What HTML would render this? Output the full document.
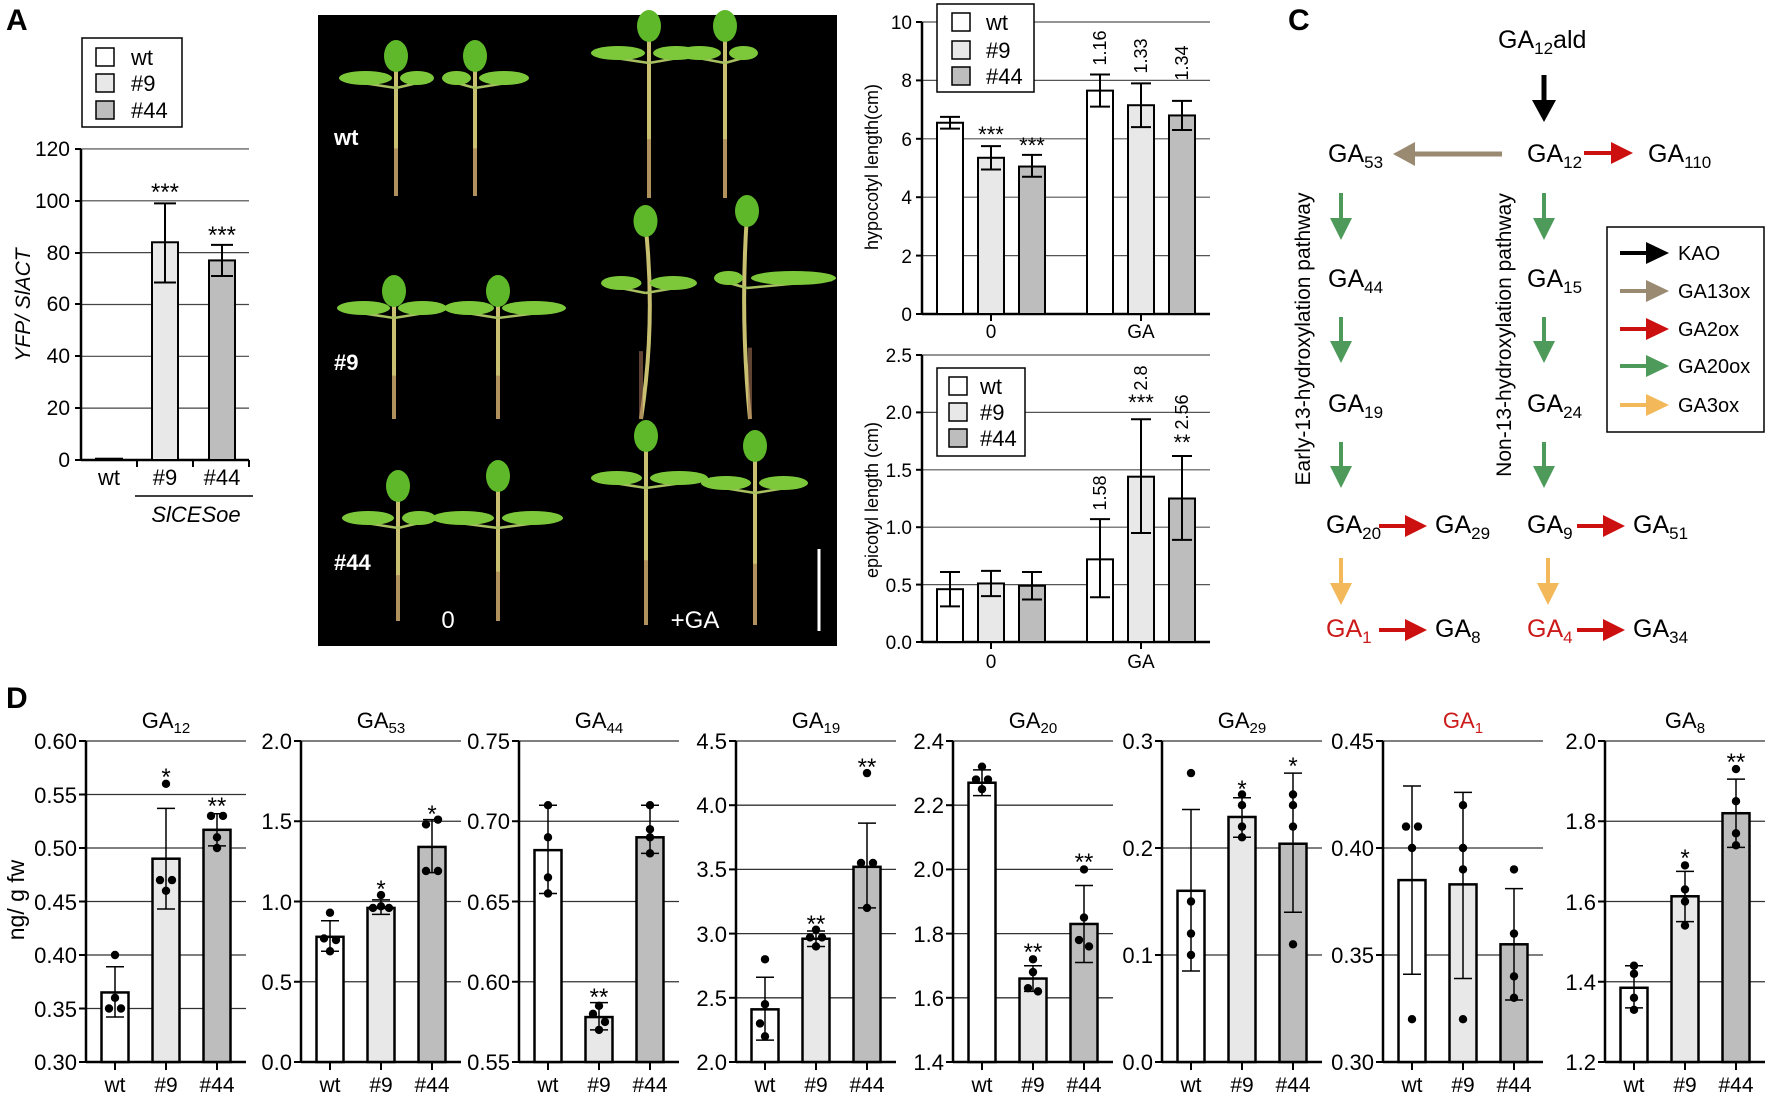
<!DOCTYPE html>
<html><head><meta charset="utf-8"><style>
html,body{margin:0;padding:0;background:#fff;}
svg{display:block;font-family:"Liberation Sans",Arial,sans-serif;}
</style></head><body>
<svg id="s" width="1772" height="1099" viewBox="0 0 1772 1099" xmlns="http://www.w3.org/2000/svg">
<rect width="1772" height="1099" fill="#fff"/>
<g id="shapes"></g>

<!-- Panel A text -->
<text x="6" y="30" font-size="30" font-weight="bold">A</text>
<g font-size="21" text-anchor="end">
<text x="70" y="156">120</text><text x="70" y="208">100</text><text x="70" y="260">80</text><text x="70" y="311">60</text><text x="70" y="363">40</text><text x="70" y="415">20</text><text x="70" y="467">0</text>
</g>
<text transform="translate(30,305) rotate(-90)" text-anchor="middle" font-size="21" font-style="italic">YFP/ SlACT</text>
<g font-size="22" text-anchor="middle">
<text x="109" y="485">wt</text><text x="165" y="485">#9</text><text x="222" y="485">#44</text>
<text x="196" y="522" font-style="italic">SlCESoe</text>
<text x="165" y="200" font-size="24">***</text><text x="222" y="243" font-size="24">***</text>
</g>
<g font-size="22">
<text x="131" y="65">wt</text><text x="131" y="91">#9</text><text x="131" y="118">#44</text>
</g>

<!-- Panel B photo labels -->
<g fill="#fff" font-size="22" font-weight="bold">
<text x="334" y="145">wt</text><text x="334" y="370">#9</text><text x="334" y="570">#44</text>
</g>
<g fill="#fff" font-size="24" text-anchor="middle">
<text x="448" y="628">0</text><text x="695" y="628">+GA</text>
</g>

<!-- B charts text -->
<g font-size="19" text-anchor="end">
<text x="912" y="29">10</text><text x="912" y="87">8</text><text x="912" y="146">6</text><text x="912" y="204">4</text><text x="912" y="263">2</text><text x="912" y="321">0</text>
<text x="912" y="362">2.5</text><text x="912" y="419">2.0</text><text x="912" y="477">1.5</text><text x="912" y="534">1.0</text><text x="912" y="592">0.5</text><text x="912" y="649">0.0</text>
</g>
<g font-size="19" text-anchor="middle">
<text x="991" y="338">0</text><text x="1141" y="338">GA</text>
<text x="991" y="668">0</text><text x="1141" y="668">GA</text>
<text transform="translate(878,167) rotate(-90)" font-size="18">hypocotyl length(cm)</text>
<text transform="translate(878,500) rotate(-90)" font-size="18">epicotyl length (cm)</text>
<text x="991" y="142" font-size="22">***</text><text x="1032" y="153" font-size="22">***</text>
<text x="1141" y="410" font-size="22">***</text><text x="1182" y="450" font-size="22">**</text>
<text transform="translate(1106,48) rotate(-90)" font-size="18">1.16</text>
<text transform="translate(1147,56) rotate(-90)" font-size="18">1.33</text>
<text transform="translate(1188,63) rotate(-90)" font-size="18">1.34</text>
<text transform="translate(1106,493) rotate(-90)" font-size="18">1.58</text>
<text transform="translate(1147,378) rotate(-90)" font-size="18">2.8</text>
<text transform="translate(1188,412) rotate(-90)" font-size="18">2.56</text>
</g>
<g font-size="22">
<text x="986" y="30">wt</text><text x="986" y="58">#9</text><text x="986" y="84">#44</text>
<text x="980" y="394">wt</text><text x="980" y="420">#9</text><text x="980" y="446">#44</text>
</g>

<!-- Panel C text -->
<text x="1288" y="30" font-size="30" font-weight="bold">C</text>
<g font-size="25">
<text x="1498" y="48">GA<tspan font-size="17" dy="6">12</tspan><tspan dy="-6">ald</tspan></text>
<text x="1328" y="162">GA<tspan font-size="17" dy="6">53</tspan></text>
<text x="1527" y="162">GA<tspan font-size="17" dy="6">12</tspan></text>
<text x="1648" y="162">GA<tspan font-size="17" dy="6">110</tspan></text>
<text x="1328" y="287">GA<tspan font-size="17" dy="6">44</tspan></text>
<text x="1527" y="287">GA<tspan font-size="17" dy="6">15</tspan></text>
<text x="1328" y="412">GA<tspan font-size="17" dy="6">19</tspan></text>
<text x="1527" y="412">GA<tspan font-size="17" dy="6">24</tspan></text>
<text x="1326" y="533">GA<tspan font-size="17" dy="6">20</tspan></text>
<text x="1435" y="533">GA<tspan font-size="17" dy="6">29</tspan></text>
<text x="1527" y="533">GA<tspan font-size="17" dy="6">9</tspan></text>
<text x="1633" y="533">GA<tspan font-size="17" dy="6">51</tspan></text>
<text x="1326" y="637" fill="#cc1b1b">GA<tspan font-size="17" dy="6">1</tspan></text>
<text x="1435" y="637">GA<tspan font-size="17" dy="6">8</tspan></text>
<text x="1527" y="637" fill="#cc1b1b">GA<tspan font-size="17" dy="6">4</tspan></text>
<text x="1633" y="637">GA<tspan font-size="17" dy="6">34</tspan></text>
</g>
<g font-size="21">
<text transform="translate(1310,339) rotate(-90)" text-anchor="middle">Early-13-hydroxylation pathway</text>
<text transform="translate(1511,335) rotate(-90)" text-anchor="middle">Non-13-hydroxylation pathway</text>
</g>
<g font-size="20">
<text x="1678" y="260">KAO</text><text x="1678" y="298">GA13ox</text><text x="1678" y="336">GA2ox</text><text x="1678" y="373">GA20ox</text><text x="1678" y="412">GA3ox</text>
</g>

<!-- Panel D text -->
<text x="6" y="708" font-size="30" font-weight="bold">D</text>
<text transform="translate(24,900) rotate(-90)" text-anchor="middle" font-size="23">ng/ g fw</text>
<g font-size="22" text-anchor="middle">
<text x="166" y="728">GA<tspan font-size="15" dy="5">12</tspan></text>
<text x="381" y="728">GA<tspan font-size="15" dy="5">53</tspan></text>
<text x="599" y="728">GA<tspan font-size="15" dy="5">44</tspan></text>
<text x="816" y="728">GA<tspan font-size="15" dy="5">19</tspan></text>
<text x="1033" y="728">GA<tspan font-size="15" dy="5">20</tspan></text>
<text x="1242" y="728">GA<tspan font-size="15" dy="5">29</tspan></text>
<text x="1463" y="728" fill="#cc1b1b">GA<tspan font-size="15" dy="5">1</tspan></text>
<text x="1685" y="728">GA<tspan font-size="15" dy="5">8</tspan></text>
</g>
<g font-size="22" text-anchor="end">
<text x="77" y="749">0.60</text><text x="77" y="803">0.55</text><text x="77" y="856">0.50</text><text x="77" y="910">0.45</text><text x="77" y="963">0.40</text><text x="77" y="1017">0.35</text><text x="77" y="1070">0.30</text>
<text x="292" y="749">2.0</text><text x="292" y="829">1.5</text><text x="292" y="910">1.0</text><text x="292" y="990">0.5</text><text x="292" y="1070">0.0</text>
<text x="510" y="749">0.75</text><text x="510" y="829">0.70</text><text x="510" y="910">0.65</text><text x="510" y="990">0.60</text><text x="510" y="1070">0.55</text>
<text x="727" y="749">4.5</text><text x="727" y="813">4.0</text><text x="727" y="877">3.5</text><text x="727" y="942">3.0</text><text x="727" y="1006">2.5</text><text x="727" y="1070">2.0</text>
<text x="944" y="749">2.4</text><text x="944" y="813">2.2</text><text x="944" y="877">2.0</text><text x="944" y="942">1.8</text><text x="944" y="1006">1.6</text><text x="944" y="1070">1.4</text>
<text x="1153" y="749">0.3</text><text x="1153" y="856">0.2</text><text x="1153" y="963">0.1</text><text x="1153" y="1070">0.0</text>
<text x="1374" y="749">0.45</text><text x="1374" y="856">0.40</text><text x="1374" y="963">0.35</text><text x="1374" y="1070">0.30</text>
<text x="1596" y="749">2.0</text><text x="1596" y="829">1.8</text><text x="1596" y="910">1.6</text><text x="1596" y="990">1.4</text><text x="1596" y="1070">1.2</text>
</g>
<g font-size="21" text-anchor="middle">
<text x="115" y="1092">wt</text><text x="166" y="1092">#9</text><text x="217" y="1092">#44</text>
<text x="330" y="1092">wt</text><text x="381" y="1092">#9</text><text x="432" y="1092">#44</text>
<text x="548" y="1092">wt</text><text x="599" y="1092">#9</text><text x="650" y="1092">#44</text>
<text x="765" y="1092">wt</text><text x="816" y="1092">#9</text><text x="867" y="1092">#44</text>
<text x="982" y="1092">wt</text><text x="1033" y="1092">#9</text><text x="1084" y="1092">#44</text>
<text x="1191" y="1092">wt</text><text x="1242" y="1092">#9</text><text x="1293" y="1092">#44</text>
<text x="1412" y="1092">wt</text><text x="1463" y="1092">#9</text><text x="1514" y="1092">#44</text>
<text x="1634" y="1092">wt</text><text x="1685" y="1092">#9</text><text x="1736" y="1092">#44</text>
</g>
<g font-size="24" text-anchor="middle">
<text x="166" y="785">*</text><text x="217" y="814">**</text>
<text x="381" y="897">*</text><text x="432" y="822">*</text>
<text x="599" y="1005">**</text>
<text x="816" y="932">**</text><text x="867" y="775">**</text>
<text x="1033" y="960">**</text><text x="1084" y="870">**</text>
<text x="1242" y="797">*</text><text x="1293" y="774">*</text>
<text x="1685" y="866">*</text><text x="1736" y="770">**</text>
</g>
</svg>
<script>
(function(){
var NS="http://www.w3.org/2000/svg",G=document.getElementById("shapes");
function el(t,a){var e=document.createElementNS(NS,t);for(var k in a)e.setAttribute(k,a[k]);G.appendChild(e);return e;}
function ln(x1,y1,x2,y2,w,c){el("line",{x1:x1,y1:y1,x2:x2,y2:y2,stroke:c||"#000","stroke-width":w||1.5});}
var F=["#ffffff","#e8e8e8","#bdbdbd"];
// ---------- Panel B photo ----------
el("rect",{x:318,y:15,width:519,height:631,fill:"#000"});
ln(819,549,819,631,3,"#fff");
function plant(x0,yb,yt,bend,lx1,lx2,ly){
  var mid=(yb+yt)/2;
  el("path",{d:"M"+x0+","+yb+" Q"+(x0+bend)+","+mid+" "+(x0+bend*0.3)+","+yt,stroke:"#c8c070",fill:"none","stroke-width":4});
  el("path",{d:"M"+x0+","+yb+" L"+x0+","+(yb-(yb-yt)*0.35),stroke:"#a07050",fill:"none","stroke-width":4,opacity:0.6});
  var tx=x0+bend*0.3;
  el("path",{d:"M"+tx+","+(ly+8)+" L"+lx1+","+ly,stroke:"#a8c060","stroke-width":2.5,fill:"none"});
  el("path",{d:"M"+tx+","+(ly+8)+" L"+lx2+","+ly,stroke:"#a8c060","stroke-width":2.5,fill:"none"});
  el("ellipse",{cx:(lx1+tx)/2-4,cy:ly-2,rx:Math.abs(tx-lx1)/2,ry:7,fill:"#7cc83a"});
  el("ellipse",{cx:(lx2+tx)/2+4,cy:ly-2,rx:Math.abs(lx2-tx)/2,ry:7,fill:"#7cc83a"});
  el("ellipse",{cx:tx,cy:yt-4,rx:12,ry:16,fill:"#5eb82a"});
}
plant(396,196,60,0,343,430,80);plant(475,196,60,0,446,525,80);
plant(649,198,30,0,595,695,55);plant(725,198,30,0,682,754,55);
plant(394,419,295,0,341,443,310);plant(498,419,295,0,448,562,310);
plant(641,419,225,15,605,693,285);plant(750,419,215,-10,718,832,280);
plant(398,621,490,0,346,432,520);plant(498,621,480,0,436,559,520);
plant(646,625,440,0,595,704,480);plant(755,625,450,0,705,804,485);
// ---------- Panel A ----------
function yA(v){return 460-v*2.592;}
for(var v=20;v<=120;v+=20)ln(81,yA(v),249,yA(v),1.2,"#444");
ln(81,149,81,460,2.5);ln(81,460,249,460,2.5);
[137,193,249].forEach(function(x){ln(x,460,x,467,2);});
[149,201,253,304,356,408,460].forEach(function(y){ln(75,y,81,y,2);});
[[109,0.5,0.4,0.6],[165,84,68.5,99],[222,77,71,83]].forEach(function(b,i){
 el("rect",{x:b[0]-13,y:yA(b[1]),width:26,height:460-yA(b[1]),fill:F[i],stroke:"#000","stroke-width":2});
 if(i>0){ln(b[0],yA(b[2]),b[0],yA(b[3]),2);ln(b[0]-11,yA(b[2]),b[0]+11,yA(b[2]),2);ln(b[0]-11,yA(b[3]),b[0]+11,yA(b[3]),2);}
});
ln(135,496,253,496,1.5);
el("rect",{x:82,y:38,width:100,height:89,fill:"#fff",stroke:"#000","stroke-width":1.5});
[57,83,110].forEach(function(y,i){el("rect",{x:96,y:y-9,width:18,height:18,fill:F[i],stroke:"#000","stroke-width":1.5});});
// ---------- Panel B charts ----------
function bchart(y0,ppu,top,grid,data){
 function Y(v){return y0-v*ppu;}
 grid.forEach(function(g){ln(922,Y(g),1210,Y(g),1.2,"#555");});
 ln(922,top,922,y0,2.5);ln(922,y0,1210,y0,2.5);
 grid.concat([0]).forEach(function(g){ln(916,Y(g),922,Y(g),2);});
 ln(991,y0,991,y0+7,2);ln(1141,y0,1141,y0+7,2);
 var cx=[950,991,1032,1100,1141,1182];
 data.forEach(function(d,i){var c=cx[i];
  el("rect",{x:c-13,y:Y(d[0]),width:26,height:y0-Y(d[0]),fill:F[i%3],stroke:"#000","stroke-width":2});
  ln(c,Y(d[1]),c,Y(d[2]),2);ln(c-10,Y(d[1]),c+10,Y(d[1]),2);ln(c-10,Y(d[2]),c+10,Y(d[2]),2);});
}
bchart(314,29.2,22,[2,4,6,8,10],[[6.55,6.35,6.75],[5.35,4.95,5.75],[5.05,4.7,5.45],[7.65,7.1,8.2],[7.15,6.4,7.9],[6.8,6.3,7.3]]);
bchart(642,114.8,355,[0.5,1,1.5,2,2.5],[[0.46,0.31,0.61],[0.51,0.40,0.62],[0.49,0.37,0.61],[0.72,0.39,1.07],[1.44,0.95,1.94],[1.25,0.89,1.62]]);
el("rect",{x:937,y:4,width:97,height:88,fill:"#fff",stroke:"#000","stroke-width":1.5});
[22,50,76].forEach(function(y,i){el("rect",{x:952,y:y-9,width:18,height:18,fill:F[i],stroke:"#000","stroke-width":1.5});});
el("rect",{x:937,y:368,width:88,height:88,fill:"#fff",stroke:"#000","stroke-width":1.5});
[386,412,438].forEach(function(y,i){el("rect",{x:949,y:y-9,width:18,height:18,fill:F[i],stroke:"#000","stroke-width":1.5});});
// ---------- Panel C arrows ----------
function varrow(x,y1,y2,c,w,hw,hl){el("line",{x1:x,y1:y1,x2:x,y2:y2-hl,stroke:c,"stroke-width":w});
 el("path",{d:"M"+(x-hw/2)+","+(y2-hl)+" L"+(x+hw/2)+","+(y2-hl)+" L"+x+","+y2+"z",fill:c});}
function harrow(x1,x2,y,c,w,hw,hl){var d=x2>x1?1:-1;el("line",{x1:x1,y1:y,x2:x2-d*hl,y2:y,stroke:c,"stroke-width":w});
 el("path",{d:"M"+(x2-d*hl)+","+(y-hw/2)+" L"+(x2-d*hl)+","+(y+hw/2)+" L"+x2+","+y+"z",fill:c});}
var GR="#4e9a5a",RD="#cc1010",BR="#9a8a72",YL="#f2b85a";
varrow(1544,75,122,"#000",5,24,22);
harrow(1502,1393,154,BR,5,24,22);
harrow(1584,1633,153,RD,4,22,22);
[[193,240],[317,363],[442,488]].forEach(function(r){varrow(1341,r[0],r[1],GR,4,22,22);varrow(1544,r[0],r[1],GR,4,22,22);});
varrow(1341,558,605,YL,4,22,22);varrow(1548,558,605,YL,4,22,22);
harrow(1379,1427,526,RD,4,22,22);harrow(1577,1625,526,RD,4,22,22);
harrow(1379,1427,630,RD,4,22,22);harrow(1577,1625,630,RD,4,22,22);
el("rect",{x:1607,y:227,width:157,height:205,fill:"#fff",stroke:"#000","stroke-width":1.5});
[["#000",253],[BR,291],[RD,329],[GR,366],[YL,405]].forEach(function(a){harrow(1620,1669,a[1],a[0],4,22,23);});
// ---------- Panel D ----------
function dchart(ax,lo,hi,nt,bars){
 function Y(v){return 1062-(v-lo)/(hi-lo)*321;}
 for(var i=0;i<nt;i++){var y=741+i*321/nt;ln(ax,y,ax+160,y,1.3,"#333");ln(ax-7,y,ax,y,2);}
 ln(ax-7,1062,ax,1062,2);
 ln(ax,741,ax,1062,2.5);ln(ax,1062,ax+160,1062,2.5);
 bars.forEach(function(b,i){var c=ax+29+51*i;
  ln(c,1062,c,1070,2);
  el("rect",{x:c-13.5,y:Y(b[0]),width:27,height:1062-Y(b[0]),fill:F[i],stroke:"#000","stroke-width":2.5});
  ln(c,Y(b[1]),c,Y(b[2]),1.5);ln(c-9,Y(b[1]),c+9,Y(b[1]),1.5);ln(c-9,Y(b[2]),c+9,Y(b[2]),1.5);
  b[3].forEach(function(d){el("circle",{cx:c+d[1],cy:Y(d[0]),r:4.2,fill:"#000"});});
 });
}
dchart(86,.3,.6,6,[[.365,.342,.389,[[.40,0],[.36,0],[.35,-6],[.35,6]]],[.49,.443,.537,[[.56,0],[.47,-6],[.47,6],[.46,0]]],[.517,.502,.532,[[.53,-6],[.53,6],[.51,0],[.50,0]]]]);
dchart(301,0,2,4,[[.78,.69,.88,[[.93,0],[.77,-6],[.76,6],[.69,0]]],[.96,.92,1.01,[[1.04,0],[.96,-8],[.97,0],[.96,8]]],[1.34,1.18,1.51,[[1.48,-6],[1.51,6],[1.19,-6],[1.19,6]]]]);
dchart(519,.55,.75,4,[[.682,.655,.71,[[.71,0],[.69,0],[.665,0],[.655,0]]],[.578,.57,.587,[[.585,0],[.58,-6],[.575,6],[.57,0]]],[.69,.68,.71,[[.71,0],[.695,0],[.69,0],[.68,0]]]]);
dchart(736,2,4.5,5,[[2.41,2.17,2.66,[[2.8,0],[2.45,0],[2.3,-5],[2.2,0]]],[2.96,2.9,3.02,[[3.03,0],[2.97,-6],[2.97,6],[2.9,0]]],[3.52,3.2,3.86,[[4.25,0],[3.55,-6],[3.55,6],[3.2,0]]]]);
dchart(953,1.4,2.4,5,[[2.27,2.23,2.31,[[2.32,0],[2.28,-6],[2.28,6],[2.25,0]]],[1.66,1.62,1.70,[[1.72,0],[1.68,0],[1.63,-5],[1.62,5]]],[1.83,1.71,1.95,[[2.0,0],[1.85,0],[1.78,-5],[1.76,5]]]]);
dchart(1162,0,.3,3,[[.16,.085,.236,[[.27,0],[.15,0],[.12,0],[.10,0]]],[.229,.21,.247,[[.25,0],[.24,0],[.22,0],[.21,0]]],[.204,.14,.27,[[.25,0],[.24,0],[.22,0],[.11,0]]]]);
dchart(1383,.3,.45,3,[[.385,.341,.429,[[.41,-6],[.41,6],[.40,0],[.32,0]]],[.383,.339,.426,[[.42,0],[.40,0],[.39,0],[.32,0]]],[.355,.329,.381,[[.39,0],[.36,0],[.34,0],[.33,0]]]]);
dchart(1605,1.2,2,4,[[1.385,1.335,1.44,[[1.44,0],[1.42,0],[1.36,0],[1.33,0]]],[1.613,1.55,1.675,[[1.69,0],[1.63,0],[1.6,0],[1.54,0]]],[1.82,1.735,1.905,[[1.93,0],[1.85,0],[1.77,0],[1.74,0]]]]);
})();
</script>
</body></html>
